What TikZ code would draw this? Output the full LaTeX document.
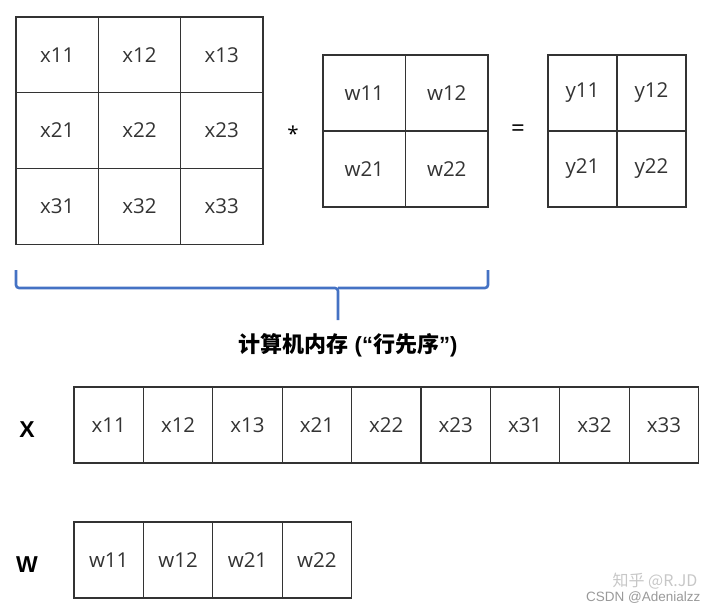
\documentclass[tikz,border=0pt]{standalone}
\usepackage{fontspec}
\setmainfont{Open Sans}
\newfontfamily\cjk{Noto Sans CJK SC}
\newfontfamily\lab{Liberation Sans}
\usepackage{xcolor}
\definecolor{brace}{RGB}{68,114,196}
\definecolor{ink}{RGB}{51,51,51}

\begin{document}
\begin{tikzpicture}[x=1pt, y=-1pt, every node/.style={font=\fontsize{20.5}{24}\selectfont, text=ink},
  cell/.style={rectangle,draw=ink,line width=1.2pt,inner sep=0pt},
  big/.style={cell,minimum width=82.3pt,minimum height=75.7pt},
  mem/.style={cell,minimum width=69.4pt,minimum height=76pt},
  sign/.style={font=\lab\fontsize{23}{26}\selectfont\bfseries, text=black}]
\useasboundingbox (0,0) rectangle (720,613);
% matrices
\foreach \i in {1,2,3}
  \foreach \j in {1,2,3}
    \node[big] (x\i\j) at ({16+82.3*(\j-0.5)},{17+75.7*(\i-0.5)}) {x\i\j};
\foreach \i in {1,2}
  \foreach \j in {1,2}
  {
    \node[cell,minimum width=82.5pt,minimum height=76pt] (w\i\j) at ({323+82.5*(\j-0.5)},{55+76*(\i-0.5)}) {w\i\j};
    \node[cell,minimum width=69pt,minimum height=76pt] (y\i\j) at ({548+69*(\j-0.5)},{55+76*(\i-0.5)}) {y\i\j};
  }
\node[text=black] (times) at (293,134) {*};
\node[text=black, font=\fontsize{24}{26}\selectfont] (equals) at (518,131) {=};
% brace
\coordinate (bl) at (16,270);
\coordinate (br) at (488,270);
\coordinate (bm) at (338,288);
\coordinate (btip) at (338,320);
\draw[brace,line width=2.6pt,rounded corners=3pt] (bl) |- (bm) -- (btip);
\draw[brace,line width=2.6pt,rounded corners=3pt] (br) |- (bm);
\node[font=\cjk\fontsize{22}{26}\selectfont\bfseries, text=black] (memlabel) at (348,345)
  {计算机内存{\lab\bfseries{} (“}行先序{\lab\bfseries ”)}};
% memory rows
\foreach \n [count=\k] in {11,12,13,21,22,23,31,32,33}
  \node[mem] (mx\n) at ({74+69.4*(\k-0.5)},425) {x\n};
\foreach \n [count=\k] in {11,12,21,22}
  \node[mem] (mw\n) at ({74+69.4*(\k-0.5)},560) {w\n};
\node[sign] (xname) at (27,430) {X};
\node[sign] (wname) at (27,565) {W};
% watermark
\node[font=\cjk\fontsize{16}{18}\selectfont, text=black!22, anchor=east] (zhihu) at (701,581) {知乎 @R.JD};
\node[font=\lab\fontsize{13.5}{15}\selectfont, text=black!40, anchor=east] (csdn) at (704,598) {CSDN @Adenialzz};
\end{tikzpicture}
\end{document}
